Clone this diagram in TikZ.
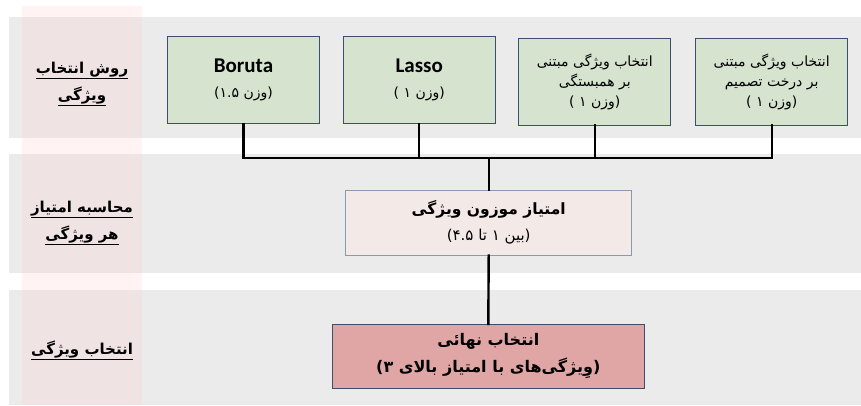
\documentclass[tikz,border=0pt]{standalone}
\usepackage{fontspec}
\setmainfont{Carlito}
\newfontfamily\fa[Script=Arabic]{DejaVu Sans}
\TeXXeTstate=1
\newcommand\rtl[1]{{\fa\beginR #1\endR}}
\definecolor{band}{HTML}{EBEBEB}
\definecolor{pinkcol}{HTML}{FFCFCF}
\definecolor{greenfill}{HTML}{D6E3CF}
\definecolor{boxedge}{HTML}{3E4F6E}
\definecolor{midfill}{HTML}{F3E9E7}
\definecolor{midedge}{HTML}{8A98B0}
\definecolor{finfill}{HTML}{E0A6A5}
\tikzset{
  method/.style={draw=boxedge, line width=0.9pt, fill=greenfill, minimum width=152pt, minimum height=87pt, inner sep=0pt, align=center},
  midbox/.style={draw=midedge, line width=0.9pt, fill=midfill, minimum width=286pt, minimum height=65pt, inner sep=0pt, align=center},
  finbox/.style={draw=boxedge, line width=0.9pt, fill=finfill, minimum width=312pt, minimum height=64pt, inner sep=0pt, align=center},
  rowlabel/.style={align=center, inner sep=0pt, font=\fa\bfseries\fontsize{15}{27}\selectfont},
  wire/.style={line width=2.4pt, line cap=rect}
}
\begin{document}
\begin{tikzpicture}[x=1pt, y=-1pt]
\useasboundingbox (0,0) rectangle (861,405);
% bands
\fill[band] (9,17) rectangle (861,137.5);
\fill[band] (9,153.5) rectangle (861,273);
\fill[band] (9,290) rectangle (861,405);
\fill[pinkcol, opacity=0.25] (22,6) rectangle (142,405);
% row labels
\node[rowlabel] (l1) at (82,84) {\underline{\rtl{روش انتخاب}}\\\underline{\rtl{ویژگی}}};
\node[rowlabel] (l2) at (82,223) {\underline{\rtl{محاسبه امتیاز}}\\\underline{\rtl{هر ویژگی}}};
\node[rowlabel] (l3) at (82,350) {\underline{\rtl{انتخاب ویژگی}}};
% method boxes
\node[method, font=\fontsize{14}{25}\selectfont] (b1) at (243.5,80.3) {{\bfseries\fontsize{21}{25}\selectfont Boruta}\\\rtl{(وزن \beginL۱.۵\endL)}};
\node[method, font=\fontsize{14}{25}\selectfont] (b2) at (419.2,80.3) {{\bfseries\fontsize{21}{25}\selectfont Lasso}\\\rtl{(وزن ۱ )}};
\node[method, font=\fa\fontsize{14}{20}\selectfont] (b3) at (594.8,81.5) {\rtl{انتخاب ویژگی مبتنی}\\\rtl{بر همبستگی}\\\rtl{(وزن ۱ )}};
\node[method, font=\fa\fontsize{14}{20}\selectfont] (b4) at (771.7,81.5) {\rtl{انتخاب ویژگی مبتنی}\\\rtl{بر درخت تصمیم}\\\rtl{(وزن ۱ )}};
% score box
\node[midbox, font=\fa\fontsize{15}{26}\selectfont] (mid) at (488.7,222.5) {{\bfseries\fontsize{15.5}{26}\selectfont\rtl{امتیاز موزون ویژگی}}\\\rtl{(بین ۱ تا \beginL۴.۵\endL)}};
% final box
\node[finbox, font=\fa\bfseries\fontsize{16}{27}\selectfont] (fin) at (488.3,356.3) {\rtl{انتخاب نهائی}\\\rtl{(وِیژگی‌های با امتیاز بالای ۳)}};
% connectors
\coordinate (bus) at (488.7,157.7);
\draw[wire] (b1.south) -- (b1.south |- bus) -- (b4.south |- bus) -- (b4.south);
\draw[wire] (b2.south) -- (b2.south |- bus);
\draw[wire] (b3.south) -- (b3.south |- bus);
\draw[wire] (bus) -- (mid.north);
\draw[wire] (mid.south) -- (fin.north);
\end{tikzpicture}
\end{document}
